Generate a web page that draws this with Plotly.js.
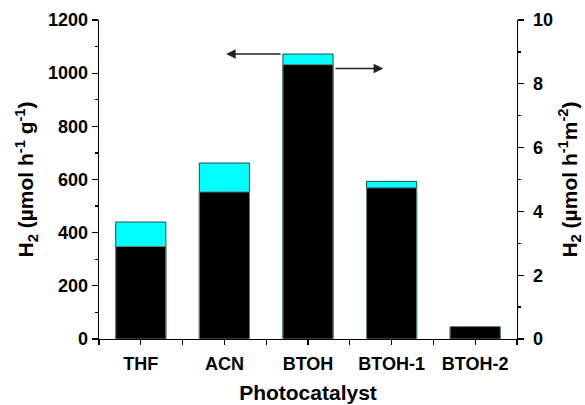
<!DOCTYPE html>
<html>
<head>
<meta charset="utf-8">
<script src="https://cdn.plot.ly/plotly-3.0.1.min.js"></script>
<style>html,body{margin:0;padding:0;background:#fff;}#chart{width:585px;height:405px;}</style>
</head>
<body>
<div id="chart"></div>
<script>
const categories = ['THF', 'ACN', 'BTOH', 'BTOH-1', 'BTOH-2'];
// H2 evolution rate per mass (left axis, µmol h-1 g-1) - cyan bars
const ratePerMass = [440, 662, 1072, 593, 40];
// H2 evolution rate per area (right axis, µmol h-1 m-2) - black bars
const ratePerArea = [2.90, 4.61, 8.60, 4.74, 0.39];
const leftTicks = [0, 200, 400, 600, 800, 1000, 1200];
const rightTicks = [0, 2, 4, 6, 8, 10];

const xIdx = categories.map((_, i) => i);

const font = {family: '"Liberation Sans", Arial, sans-serif', color: '#000'};
const tickFont = Object.assign({}, font, {size: 18, weight: 'bold'});
const titleFont = Object.assign({}, font, {size: 21, weight: 'bold'});

const traces = [
  {
    type: 'bar', x: xIdx, y: ratePerMass, yaxis: 'y', width: 0.6,
    marker: {color: '#00FFFF', line: {color: '#1d4f4f', width: 1}},
    hoverinfo: 'none'
  },
  {
    type: 'bar', x: xIdx, y: ratePerArea, yaxis: 'y2', width: 0.6,
    marker: {color: '#000000', line: {color: '#5f8585', width: 1}},
    hoverinfo: 'none'
  }
];

const peak = 2;
const layout = {
  width: 585, height: 405,
  margin: {l: 99, r: 68, t: 20, b: 66},
  paper_bgcolor: '#fff', plot_bgcolor: '#fff',
  barmode: 'overlay', showlegend: false,
  font: font,
  xaxis: {
    range: [-0.5, categories.length - 0.5], tickmode: 'array',
    tickvals: xIdx, ticktext: categories,
    showgrid: false, zeroline: false, showline: true, linecolor: '#000', linewidth: 1.3,
    ticks: 'outside', ticklen: 5, tickwidth: 1.3, tickcolor: '#000',
    minor: {tick0: -0.5, dtick: 1, ticks: 'outside', ticklen: 5, tickwidth: 1.3, tickcolor: '#000', showgrid: false},
    tickfont: tickFont, ticklabelstandoff: 3,
    title: {text: 'Photocatalyst', font: titleFont, standoff: 12}
  },
  yaxis: {
    range: [0, 1200], tickvals: leftTicks,
    showgrid: false, zeroline: false, showline: true, linecolor: '#000', linewidth: 1.3,
    ticks: 'outside', ticklen: 6, tickwidth: 1.3, tickcolor: '#000',
    minor: {dtick: 100, ticks: 'outside', ticklen: 3, tickwidth: 1.3, tickcolor: '#000', showgrid: false},
    tickfont: tickFont, ticklabelstandoff: 0,
    title: {text: 'H<sub>2</sub> (µmol h<sup>-1</sup> g<sup>-1</sup>)', font: titleFont, standoff: 8}
  },
  yaxis2: {
    range: [0, 10], tickvals: rightTicks, overlaying: 'y', side: 'right',
    showgrid: false, zeroline: false, showline: true, linecolor: '#000', linewidth: 1.3,
    ticks: 'outside', ticklen: 6, tickwidth: 1.3, tickcolor: '#000',
    minor: {dtick: 1, ticks: 'outside', ticklen: 3, tickwidth: 1.3, tickcolor: '#000', showgrid: false},
    tickfont: tickFont, ticklabelstandoff: 5,
    title: {text: 'H<sub>2</sub> (µmol h<sup>-1</sup>m<sup>-2</sup>)', font: titleFont, standoff: 10}
  },
  annotations: [
    {xref: 'x', yref: 'y', axref: 'x', ayref: 'y',
     x: peak - 0.98, y: ratePerMass[peak], ax: peak - 0.31, ay: ratePerMass[peak],
     text: '', showarrow: true, arrowhead: 2, arrowsize: 1.2, arrowwidth: 1.6, arrowcolor: '#222'},
    {xref: 'x', yref: 'y2', axref: 'x', ayref: 'y2',
     x: peak + 0.9, y: 8.48, ax: peak + 0.31, ay: 8.48,
     text: '', showarrow: true, arrowhead: 2, arrowsize: 1.2, arrowwidth: 1.6, arrowcolor: '#222'}
  ]
};

Plotly.newPlot('chart', traces, layout, {displayModeBar: false, staticPlot: true});
</script>
</body>
</html>
